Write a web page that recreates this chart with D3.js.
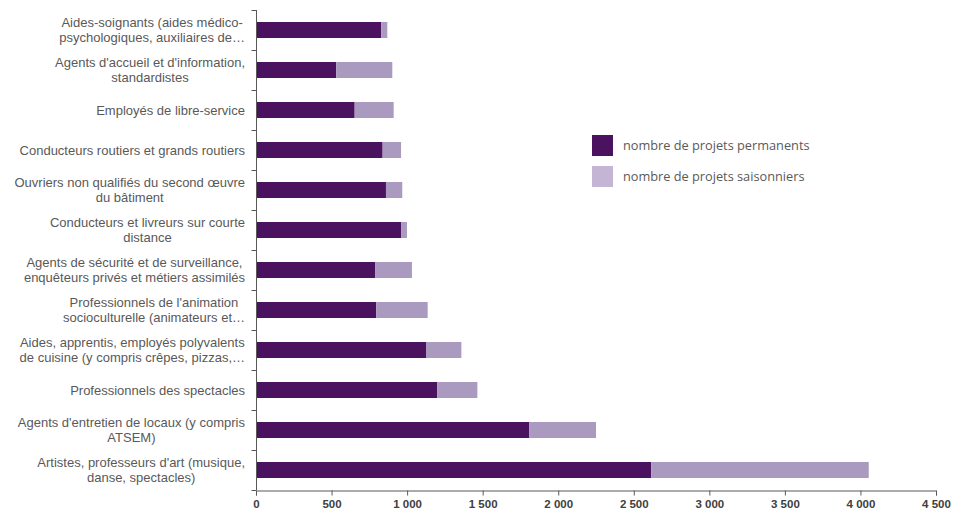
<!DOCTYPE html>
<html><head><meta charset="utf-8">
<script src="https://cdn.jsdelivr.net/npm/d3@7"></script>
<style>body{margin:0;background:#fff}svg{display:block}</style>
</head><body>
<script>
const categories = [
  ["Aides-soignants (aides médico-", "psychologiques, auxiliaires de…"],
  ["Agents d'accueil et d'information,", "standardistes"],
  ["Employés de libre-service"],
  ["Conducteurs routiers et grands routiers"],
  ["Ouvriers non qualifiés du second œuvre", "du bâtiment"],
  ["Conducteurs et livreurs sur courte", "distance"],
  ["Agents de sécurité et de surveillance,", "enquêteurs privés et métiers assimilés"],
  ["Professionnels de l'animation", "socioculturelle (animateurs et…"],
  ["Aides, apprentis, employés polyvalents", "de cuisine (y compris crêpes, pizzas,…"],
  ["Professionnels des spectacles"],
  ["Agents d'entretien de locaux (y compris", "ATSEM)"],
  ["Artistes, professeurs d'art (musique,", "danse, spectacles)"]
];
const permanents = [828, 531, 653, 838, 860, 960, 788, 796, 1125, 1200, 1807, 2616];
const saisonniers = [41, 371, 258, 122, 108, 39, 244, 340, 234, 265, 443, 1439];
const seriesNames = ["nombre de projets permanents", "nombre de projets saisonniers"];
const xTicks = [0, 500, 1000, 1500, 2000, 2500, 3000, 3500, 4000, 4500];

const W = 954, H = 509;
const colors = ["#4b125f", "#ab9abf"];
const legendColors = ["#4b125f", "#c5b5d4"];
const svg = d3.select("body").append("svg").attr("width", W).attr("height", H);

const x = d3.scaleLinear().domain([0, 4500]).range([256, 936]);
const y = d3.scaleBand().domain(d3.range(categories.length)).range([10, 490]).paddingInner(0.6).paddingOuter(0.3);

// bars
const g = svg.append("g");
categories.forEach((c, i) => {
  g.append("rect").attr("x", x(0)).attr("y", y(i)).attr("width", x(permanents[i]) - x(0)).attr("height", y.bandwidth()).attr("fill", colors[0]);
  g.append("rect").attr("x", x(permanents[i])).attr("y", y(i)).attr("width", x(permanents[i] + saisonniers[i]) - x(permanents[i])).attr("height", y.bandwidth()).attr("fill", colors[1]);
});

// y axis
const yAxisScale = d3.scaleBand().domain(d3.range(categories.length)).range([10, 490]);
const ya = svg.append("g").attr("transform", "translate(256.5,0)");
ya.append("line").attr("x1", 0).attr("x2", 0).attr("y1", 10).attr("y2", 490).attr("stroke", "#595959");
d3.range(categories.length + 1).forEach(i => {
  const yy = Math.round(yAxisScale(0) + i * yAxisScale.step()) + 0.5;
  ya.append("line").attr("x1", -5).attr("x2", 0).attr("y1", yy).attr("y2", yy).attr("stroke", "#595959");
});
// labels
const lab = svg.append("g").attr("font-family", "Liberation Sans, Arial, sans-serif").attr("font-size", 13).attr("fill", "#595959");
categories.forEach((lines, i) => {
  const cy = yAxisScale(i) + yAxisScale.bandwidth() / 2;
  const grp = lab.append("g");
  const texts = lines.map((l, k) => grp.append("text").text(l)
    .attr("y", cy + (k - (lines.length - 1) / 2) * 15 + 4.5)
    .attr("text-anchor", "middle"));
  const maxW = d3.max(texts, t => t.node().getComputedTextLength());
  texts.forEach(t => t.attr("x", 245 - maxW / 2));
});

// x axis
const fmt = d3.formatLocale({decimal: ",", thousands: "\u00a0", grouping: [3], currency: ["", ""]}).format(",");
const xa = svg.append("g").attr("transform", "translate(0,490.5)")
  .call(d3.axisBottom(x).tickValues(xTicks).tickSize(5).tickFormat(fmt));
xa.select(".domain").attr("stroke", "#595959");
xa.selectAll(".tick line").attr("stroke", "#595959");
xa.selectAll(".tick text").attr("font-family", "Liberation Sans, Arial, sans-serif").attr("font-size", 11.5).attr("font-weight", "bold").attr("fill", "#404040").attr("y", 9).attr("dy", "0.71em");

// legend
const leg = svg.append("g");
seriesNames.forEach((n, i) => {
  leg.append("rect").attr("x", 592).attr("y", 135 + i * 31).attr("width", 21).attr("height", 21).attr("fill", legendColors[i]);
  leg.append("text").attr("x", 623).attr("y", 135 + i * 31 + 14.5).text(n)
    .attr("font-family", "Open Sans, sans-serif").attr("font-size", 12.75).attr("fill", "#595959");
});
</script>
</body></html>
